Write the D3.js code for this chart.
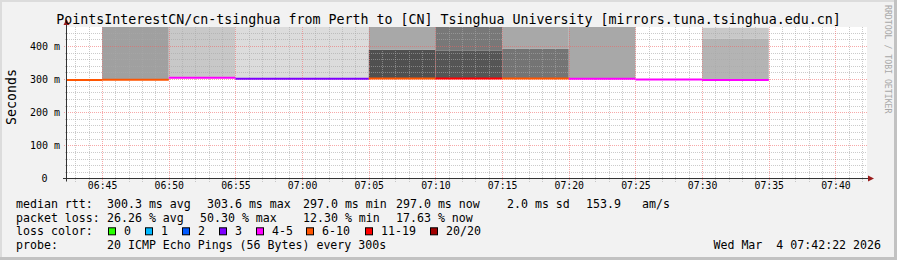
<!DOCTYPE html>
<html>
<head>
<meta charset="utf-8">
<script src="https://cdn.jsdelivr.net/npm/d3@7"></script>
<style>
  body { margin: 0; background: #f2f2f2; }
  text { font-family: "DejaVu Sans Mono", monospace; }
</style>
</head>
<body>
<div id="chart"></div>
<script>
// 5 minute slots (start of each step)
const slotStart = ["06:40", "06:45", "06:50", "06:55", "07:00", "07:05", "07:10", "07:15", "07:20", "07:25", "07:30"];
const medianMs = [297.0, 298.0, 303.6, 301.0, 301.0, 302.0, 302.0, 302.0, 301.0, 299.0, 297.0];
const lossPct = [31.6, 33.0, 22.0, 12.3, 14.0, 30.0, 50.3, 33.0, 24.0, 21.0, 17.63];
// smoke per slot: [low ms, high ms, share of pings]
const smokeBands = [
    [],
    [[297, 700, 0.5]],
    [[303, 700, 0.25]],
    [[300, 700, 0.125]],
    [[300, 700, 0.125]],
    [[301, 388, 1.0], [388, 700, 0.45]],
    [[301, 385, 0.97], [385, 700, 0.75]],
    [[301, 391, 0.775], [391, 700, 0.45]],
    [[301, 700, 0.45]],
    [],
    [[296, 421, 0.375], [421, 455, 0.25]]
];
const lossLabels = ["0", "1", "2", "3", "4-5", "6-10", "11-19", "20/20"];
const lossUpper = [0, 1, 2, 3, 5, 10, 19, 20];   // pings lost of 20
const yTicks = [0, 100, 200, 300, 400];
const rttExtra = ["2.0 ms sd", "153.9", "am/s"];
const probeText = "20 ICMP Echo Pings (56 Bytes) every 300s";
const titleText = "PointsInterestCN/cn-tsinghua from Perth to [CN] Tsinghua University [mirrors.tuna.tsinghua.edu.cn]";
const stampText = "Wed Mar  4 07:42:22 2026";

var SmokeModule = (() => {

    const W = 897, H = 260;
    const plot = { left: 67, right: 867, top: 27, bottom: 178.5 };
    const lossColors = ["#26ff00", "#00b8ff", "#0059ff", "#7e00ff", "#ff00ff", "#ff5500", "#ff0000", "#a10000"];

    const parse = d3.timeParse("%Y-%m-%d %H:%M:%S");
    const t = s => parse("2026-03-04 " + (s.length === 5 ? s + ":00" : s));

    const x = d3.scaleTime()
        .domain([t("06:42:22"), t("07:42:22")])
        .range([plot.left, plot.right]);

    const y = d3.scaleLinear()
        .domain([0, 457])
        .range([plot.bottom, plot.top]);

    const shade = d3.scaleLinear().domain([0, 1]).range(["#f0f0f0", "#505050"]);

    const slots = slotStart.map((s, i) => {
        const lost = lossPct[i] / 100 * 20;
        return {
            t0: t(s),
            t1: d3.timeMinute.offset(t(s), 5),
            median: medianMs[i],
            bin: lossUpper.findIndex(u => lost <= u),
            smoke: smokeBands[i]
        };
    });

    const svg = d3.select("#chart").append("svg")
        .attr("width", W).attr("height", H);

    // frame
    svg.append("rect").attr("width", W).attr("height", H).attr("fill", "#f2f2f2");
    svg.append("rect").attr("x", 0).attr("y", 0).attr("width", W).attr("height", 2).attr("fill", "#dcdcdc");
    svg.append("rect").attr("x", 0).attr("y", 0).attr("width", 2).attr("height", H).attr("fill", "#dcdcdc");
    svg.append("rect").attr("x", 0).attr("y", H - 3).attr("width", W).attr("height", 3).attr("fill", "#c2c2c2");
    svg.append("rect").attr("x", W - 3).attr("y", 0).attr("width", 3).attr("height", H).attr("fill", "#c2c2c2");

    svg.append("defs").append("clipPath").attr("id", "clip")
        .append("rect")
        .attr("x", plot.left).attr("y", plot.top)
        .attr("width", plot.right - plot.left).attr("height", plot.bottom - plot.top);

    svg.append("rect")
        .attr("x", plot.left).attr("y", plot.top)
        .attr("width", plot.right - plot.left).attr("height", plot.bottom - plot.top)
        .attr("fill", "#fff");

    // smoke
    svg.append("g").attr("clip-path", "url(#clip)")
        .selectAll("g")
        .data(slots)
        .join("g")
        .selectAll("rect")
        .data(d => d.smoke.map(b => ({ t0: d.t0, t1: d.t1, lo: b[0], hi: b[1], share: b[2] })))
        .join("rect")
        .attr("x", d => x(d.t0))
        .attr("width", d => x(d.t1) - x(d.t0))
        .attr("y", d => y(d.hi))
        .attr("height", d => y(d.lo) - y(d.hi))
        .attr("fill", d => shade(d.share));

    // grid
    const minorX = x.ticks(d3.timeMinute.every(1)).filter(d => d.getMinutes() % 5 !== 0);
    const majorX = x.ticks(d3.timeMinute.every(5));
    const minorY = d3.range(20, 457, 20).filter(v => v % 100 !== 0);
    const majorY = yTicks.filter(v => v > 0);

    const grid = svg.append("g")
        .attr("stroke-width", 1)
        .attr("stroke-dasharray", "1,1")
        .attr("shape-rendering", "crispEdges");

    grid.append("g").attr("stroke", "#a8a8a8").attr("stroke-opacity", 0.6)
        .selectAll("line").data(minorX).join("line")
        .attr("x1", d => Math.round(x(d)) + 0.5).attr("x2", d => Math.round(x(d)) + 0.5)
        .attr("y1", plot.top).attr("y2", plot.bottom + 3);
    grid.append("g").attr("stroke", "#a8a8a8").attr("stroke-opacity", 0.6)
        .selectAll("line").data(minorY).join("line")
        .attr("y1", d => Math.round(y(d)) + 0.5).attr("y2", d => Math.round(y(d)) + 0.5)
        .attr("x1", plot.left - 2).attr("x2", plot.right);
    grid.append("g").attr("stroke", "#f06060").attr("stroke-opacity", 0.55)
        .selectAll("line").data(majorX).join("line")
        .attr("x1", d => Math.round(x(d)) + 0.5).attr("x2", d => Math.round(x(d)) + 0.5)
        .attr("y1", plot.top).attr("y2", plot.bottom + 4);
    grid.append("g").attr("stroke", "#f06060").attr("stroke-opacity", 0.55)
        .selectAll("line").data(majorY).join("line")
        .attr("y1", d => Math.round(y(d)) + 0.5).attr("y2", d => Math.round(y(d)) + 0.5)
        .attr("x1", plot.left - 3).attr("x2", plot.right);

    // median line coloured by loss
    svg.append("g").attr("clip-path", "url(#clip)")
        .selectAll("line")
        .data(slots)
        .join("line")
        .attr("x1", d => x(d.t0)).attr("x2", d => x(d.t1))
        .attr("y1", d => y(d.median)).attr("y2", d => y(d.median))
        .attr("stroke", d => lossColors[d.bin])
        .attr("stroke-width", 2);

    // axes
    const axisCol = "#333";
    svg.append("line")
        .attr("x1", plot.left - 4).attr("x2", plot.right + 4)
        .attr("y1", plot.bottom).attr("y2", plot.bottom)
        .attr("stroke", axisCol);
    svg.append("line")
        .attr("x1", plot.left - 0.5).attr("x2", plot.left - 0.5)
        .attr("y1", plot.bottom + 3).attr("y2", plot.top - 4)
        .attr("stroke", axisCol);
    svg.append("path")
        .attr("d", `M${plot.right + 1},${plot.bottom - 3}L${plot.right + 7},${plot.bottom}L${plot.right + 1},${plot.bottom + 3}Z`)
        .attr("fill", "#9a1c1c");
    svg.append("path")
        .attr("d", `M${plot.left - 3.5},${plot.top - 2}L${plot.left - 0.5},${plot.top - 8}L${plot.left + 2.5},${plot.top - 2}Z`)
        .attr("fill", "#9a1c1c");

    const xAxis = svg.append("g")
        .attr("transform", `translate(0, ${plot.bottom})`)
        .call(d3.axisBottom(x).ticks(d3.timeMinute.every(5)).tickFormat(d3.timeFormat("%H:%M")).tickSize(0).tickPadding(4));
    xAxis.select(".domain").remove();
    xAxis.selectAll("text").attr("font-family", "DejaVu Sans Mono").attr("font-size", "9.8px").attr("fill", "#000");

    const yAxis = svg.append("g")
        .attr("transform", `translate(${plot.left}, 0)`)
        .call(d3.axisLeft(y).tickValues(yTicks).tickFormat(d => d ? d + " m" : "0").tickSize(0).tickPadding(7));
    yAxis.select(".domain").remove();
    yAxis.selectAll("text").attr("font-family", "DejaVu Sans Mono").attr("font-size", "10px").attr("fill", "#000")
        .filter(d => d === 0).attr("x", -19.5);

    // titles
    svg.append("text")
        .attr("x", W / 2).attr("y", 23.5)
        .attr("text-anchor", "middle")
        .attr("font-size", "13.3px")
        .text(titleText);

    svg.append("text")
        .attr("transform", "translate(15.5, 97) rotate(-90)")
        .attr("text-anchor", "middle")
        .attr("font-size", "13.3px")
        .text("Seconds");

    svg.append("text")
        .attr("transform", "translate(885, 5) rotate(90)")
        .attr("font-size", "8.2px")
        .attr("fill", "#a8a8a8")
        .text("RRDTOOL / TOBI OETIKER");

    // legend
    const f1 = d3.format(".1f"), f2 = d3.format(".2f");
    const rows = [208.3, 221.8, 235.3, 248.7];
    const legend = svg.append("g").attr("font-size", "11.6px").attr("fill", "#000");
    const put = (xp, yp, s) => legend.append("text").attr("x", xp).attr("y", yp)
        .attr("xml:space", "preserve").style("white-space", "pre").text(s);

    put(16, rows[0], "median rtt:");
    put(107, rows[0], f1(d3.mean(medianMs)) + " ms avg");
    put(207, rows[0], f1(d3.max(medianMs)) + " ms max");
    put(303, rows[0], f1(d3.min(medianMs)) + " ms min");
    put(396, rows[0], f1(medianMs[medianMs.length - 1]) + " ms now");
    put(507, rows[0], rttExtra[0]);
    put(586, rows[0], rttExtra[1]);
    put(642, rows[0], rttExtra[2]);

    put(16, rows[1], "packet loss:");
    put(107, rows[1], f2(d3.mean(lossPct)) + " % avg");
    put(200, rows[1], f2(d3.max(lossPct)) + " % max");
    put(303, rows[1], f2(d3.min(lossPct)) + " % min");
    put(396, rows[1], f2(lossPct[lossPct.length - 1]) + " % now");

    put(16, rows[2], "loss color:");
    const boxX = [108.5, 145.5, 182.5, 219.5, 256.5, 306.5, 365.5, 430.5];
    lossLabels.forEach((lab, i) => {
        legend.append("rect")
            .attr("x", boxX[i]).attr("y", rows[2] - 7.5)
            .attr("width", 7).attr("height", 7)
            .attr("fill", lossColors[i])
            .attr("stroke", "#000").attr("stroke-width", 1);
        put(boxX[i] + 15.5, rows[2], lab);
    });

    put(16, rows[3], "probe:");
    put(107, rows[3], probeText);
    legend.append("text").attr("x", 881).attr("y", rows[3])
        .attr("text-anchor", "end")
        .attr("xml:space", "preserve").style("white-space", "pre")
        .text(stampText);

})();
</script>
</body>
</html>
